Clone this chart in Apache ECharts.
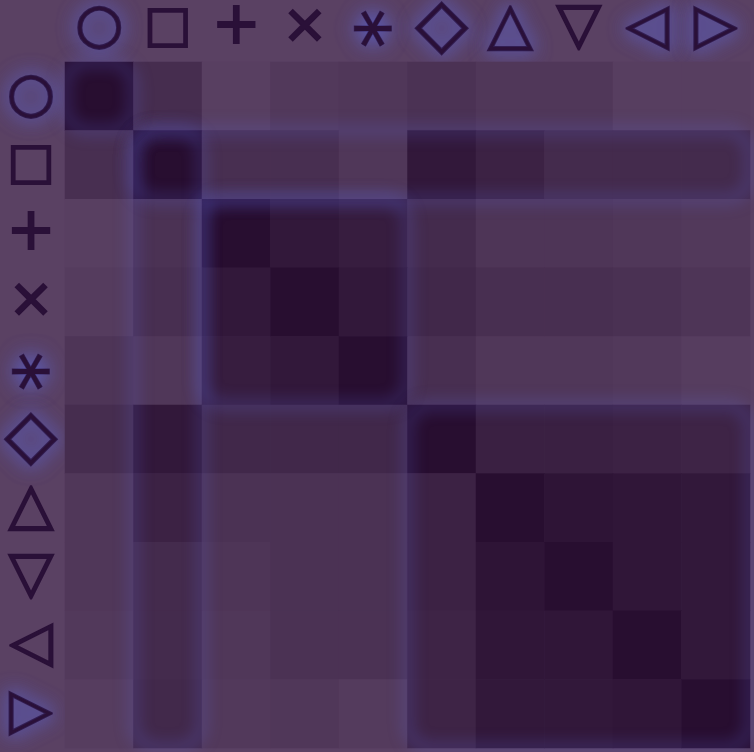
<!DOCTYPE html>
<html><head><meta charset="utf-8">
<script src="https://cdn.jsdelivr.net/npm/echarts@6/dist/echarts.min.js"></script>
<style>html,body{margin:0;padding:0;background:#5a4163}#c{width:754px;height:752px}</style>
</head><body><div id="c"></div>
<script>
const categories = ['○','□','+','×','⚹','◇','△','▽','◁','▷'];
const rowO = [1.00,0.40,0.04,0.16,0.20,0.30,0.20,0.20,0.06,0.06];
const rowS = [0.36,1.00,0.36,0.36,0.20,0.80,0.60,0.44,0.44,0.44];
const rowPlus = [0.04,0.30,1.00,0.80,0.70,0.44,0.24,0.24,0.20,0.16];
const rowX = [0.10,0.36,0.80,1.00,0.80,0.50,0.36,0.36,0.32,0.24];
const rowStar = [0.24,0.20,0.70,0.80,1.00,0.36,0.20,0.20,0.16,0.08];
const rowD = [0.40,0.80,0.50,0.50,0.50,1.00,0.64,0.64,0.60,0.56];
const rowUp = [0.20,0.60,0.30,0.30,0.30,0.60,1.00,0.88,0.84,0.80];
const rowDown = [0.20,0.44,0.24,0.30,0.30,0.60,0.88,1.00,0.84,0.80];
const rowLeft = [0.16,0.44,0.20,0.30,0.30,0.56,0.84,0.84,1.00,0.80];
const rowRight = [0.08,0.48,0.16,0.20,0.12,0.56,0.80,0.80,0.84,1.00];
const rows = [rowO,rowS,rowPlus,rowX,rowStar,rowD,rowUp,rowDown,rowLeft,rowRight];
// glow outlines around dark blocks: [firstCol, lastCol, firstRow, lastRow]
const glowBlocks = [[0,0,0,0],[1,1,1,9],[1,9,1,1],[2,4,2,4],[5,9,5,9]];
const topGlow = ['○','⚹','◇','△','◁','▷'];
const leftGlow = ['○','◇','▷','⚹'];

const data = [];
rows.forEach((r, yi) => r.forEach((v, xi) => data.push([xi, yi, v])));

const symSize = {'○':55,'□':50,'+':58,'×':54,'⚹':66,'◇':68,'△':58,'▽':58,'◁':56,'▷':56};
const rich = {};
categories.forEach((c, i) => {
  const base = {fontSize: symSize[c], lineHeight: 50, fontFamily: 'DejaVu Sans', color: '#2a1038',
    textBorderColor: '#2a1038', textBorderWidth: c === '⚹' ? 1 : 2};
  rich['p' + i] = base;
  rich['g' + i] = Object.assign({}, base, {textShadowColor: 'rgba(95,105,225,0.95)', textShadowBlur: 20});
});
const fmtTop = (v) => { const i = categories.indexOf(v); return '{' + (topGlow.includes(v) ? 'g' : 'p') + i + '|' + v + '}'; };
const fmtLeft = (v) => { const i = categories.indexOf(v); return '{' + (leftGlow.includes(v) ? 'g' : 'p') + i + '|' + v + '}'; };

const chart = echarts.init(document.getElementById('c'));
chart.setOption({
  backgroundColor: '#5a4163',
  animation: false,
  grid: {left: 65, right: 4, top: 62, bottom: 4, containLabel: false, outerBoundsMode: 'none'},
  xAxis: {type: 'category', position: 'top', data: categories,
    axisLine: {show: false}, axisTick: {show: false}, splitLine: {show: false},
    axisLabel: {margin: 34, verticalAlign: 'middle', formatter: fmtTop, rich: rich}},
  yAxis: {type: 'category', inverse: true, data: categories,
    axisLine: {show: false}, axisTick: {show: false}, splitLine: {show: false},
    axisLabel: {margin: 34, align: 'center', formatter: fmtLeft, rich: rich}},
  visualMap: {show: false, min: 0, max: 1, dimension: 2, seriesIndex: 0,
    inRange: {color: ['#5a4163', '#280e30']}},
  series: [
    {type: 'heatmap', data: data, itemStyle: {borderWidth: 0}},
    {type: 'custom', data: glowBlocks, silent: true, z: 5,
      renderItem: function (params, api) {
        const p0 = api.coord([api.value(0), api.value(2)]);
        const p1 = api.coord([api.value(1), api.value(3)]);
        const cw = api.size([1, 1]);
        const x = p0[0] - cw[0] / 2, y = p0[1] - cw[1] / 2;
        const w = p1[0] - p0[0] + cw[0], h = p1[1] - p0[1] + cw[1];
        const off = 3000;
        return {type: 'rect', shape: {x: x - off, y: y, width: w, height: h, r: 22},
          style: {fill: null, stroke: 'rgba(100,110,235,0.6)', lineWidth: 7,
            shadowColor: 'rgba(100,110,235,0.6)', shadowBlur: 16, shadowOffsetX: off}};
      }}
  ]
});
</script></body></html>
